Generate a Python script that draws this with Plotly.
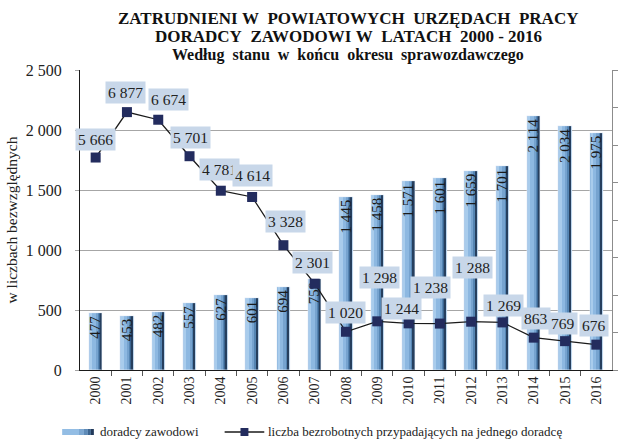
import plotly.graph_objects as go

years = list(range(2000, 2017))
advisers = [477, 453, 482, 557, 627, 601, 694, 759, 1445, 1458, 1571, 1601, 1659, 1701, 2114, 2034, 1975]
unemployed_per_adviser = [5666, 6877, 6674, 5701, 4781, 4614, 3328, 2301, 1020, 1298, 1244, 1238, 1288, 1269, 863, 769, 676]

bar_name = "doradcy zawodowi"
line_name = "liczba bezrobotnych przypadających na jednego doradcę"
S2 = "\u00a0\u00a0"
title_lines = [
    "ZATRUDNIENI\u00a0W" + S2 + "POWIATOWYCH" + S2 + "URZĘDACH" + S2 + "PRACY",
    "DORADCY" + S2 + "ZAWODOWI\u00a0W" + S2 + "LATACH" + S2 + "2000\u00a0-\u00a02016",
    "Według" + S2 + "stanu" + S2 + "w" + S2 + "końcu" + S2 + "okresu" + S2 + "sprawozdawczego",
]
y_title = "w liczbach bezwzględnych"

# label offsets (pixels) for the line value boxes
label_dx = [0, -1, 10, 1, -1, 0, 2, -2, -1, 2, -7, -9, 1, 1, 2, -2, -2]
label_dy = [18, 20, 20, 19, 21, 21, 24, 21, 19, 44, 15, 36, 54, 17, 19, 18, 19]

FONT = "Liberation Serif"
L, R, T, B, W, H = 80, 6, 70, 69, 623, 439
PW, PH = W - L - R, H - T - B


def px_x(p):
    return (p - L) / PW


def px_y(p):
    return (H - B - p) / PH


fig = go.Figure()

# cylinder-like bars built from layered bars
layers = [
    (-0.215, 0.43, "#A8C9E8"),
    (-0.19, 0.38, "#8DB8E1"),
    (-0.17, 0.06, "#A9CCEC"),
    (0.00, 0.19, "#76A3CF"),
    (0.07, 0.12, "#5585B3"),
    (0.11, 0.08, "#3A6490"),
    (0.14, 0.05, "#263F5E"),
]
for i, (off, w, col) in enumerate(layers):
    fig.add_trace(go.Bar(
        x=years, y=advisers, offset=off, width=w,
        marker=dict(color=col, line=dict(width=0)),
        name=bar_name, showlegend=False, hoverinfo="skip",
    ))

# text layer
fig.add_trace(go.Bar(
    x=years, y=advisers, offset=-0.215, width=0.43,
    marker=dict(color="rgba(0,0,0,0)"),
    texttemplate="%{y:,d}", textposition="inside", insidetextanchor="end",
    textangle=-90, constraintext="none",
    textfont=dict(family=FONT, size=15, color="#1a1a1a"),
    showlegend=False, name=bar_name,
))

fig.add_trace(go.Scatter(
    x=years, y=unemployed_per_adviser, yaxis="y2", mode="lines+markers",
    line=dict(color="#1a1a1a", width=1.3),
    marker=dict(symbol="square", size=10, color="#232C5E"),
    name=line_name, showlegend=False,
))

for x, v, dx, dy in zip(years, unemployed_per_adviser, label_dx, label_dy):
    fig.add_annotation(
        x=x, y=v, xref="x", yref="y2", text=f"{v:,}".replace(",", " "),
        showarrow=False, xshift=dx, yshift=dy,
        bgcolor="#C8D7E9", borderpad=2,
        font=dict(family=FONT, size=15.5, color="#222222"),
    )

for txt, py, fs in zip(title_lines, [18, 37, 55], [17, 17, 16]):
    fig.add_annotation(
        x=px_x(351), y=px_y(py), xref="paper", yref="paper", text="<b>" + txt + "</b>",
        showarrow=False, xanchor="center", yanchor="middle",
        font=dict(family=FONT, size=fs, color="#111111"),
    )

# manual legend
shapes = []
for x0, x1, col in [(62, 79, "#93BDE4"), (79, 84, "#7DA8D2"), (84, 88, "#5E8BB8"),
                    (88, 91, "#3D6590"), (91, 94, "#22395A")]:
    shapes.append(dict(type="rect", xref="paper", yref="paper", x0=px_x(x0), x1=px_x(x1),
                       y0=px_y(435), y1=px_y(429), fillcolor=col, line=dict(width=0), layer="above"))
shapes.append(dict(type="line", xref="paper", yref="paper", x0=px_x(226), x1=px_x(266),
                   y0=px_y(432), y1=px_y(432), line=dict(color="#1a1a1a", width=1.3), layer="above"))
shapes.append(dict(type="rect", xref="paper", yref="paper", x0=px_x(242), x1=px_x(250),
                   y0=px_y(436), y1=px_y(428), fillcolor="#232C5E", line=dict(width=0), layer="above"))
fig.add_annotation(x=px_x(98), y=px_y(432), xref="paper", yref="paper", text=bar_name,
                   showarrow=False, xanchor="left", yanchor="middle",
                   font=dict(family=FONT, size=13, color="#222222"))
fig.add_annotation(x=px_x(268), y=px_y(432), xref="paper", yref="paper", text=line_name,
                   showarrow=False, xanchor="left", yanchor="middle",
                   font=dict(family=FONT, size=13, color="#222222"))

fig.update_layout(
    width=W, height=H,
    margin=dict(l=L, r=R, t=T, b=B),
    paper_bgcolor="white", plot_bgcolor="white",
    barmode="overlay", bargap=0,
    separators=", ",
    showlegend=False,
    shapes=shapes,
    font=dict(family=FONT, color="#222222"),
    xaxis=dict(
        range=[1999.5, 2016.5], tickvals=years, ticktext=[str(y) for y in years],
        showgrid=False, showline=True, linecolor="#1a1a1a", linewidth=1,
        ticks="", tickangle=-90, tickfont=dict(family=FONT, size=14, color="#222222"),
        minor=dict(tickvals=[y + 0.5 for y in years[:-1]], ticks="outside", ticklen=5,
                   tickcolor="#555555", showgrid=False),
        zeroline=False,
    ),
    yaxis=dict(
        range=[0, 2500], dtick=500, tickformat=",d",
        showgrid=True, gridcolor="#A6A6A6", gridwidth=1,
        showline=True, linecolor="#1a1a1a", linewidth=1,
        ticks="outside", ticklen=4, tickcolor="#A6A6A6", ticklabelstandoff=10,
        tickfont=dict(family=FONT, size=16, color="#222222"),
        title=dict(text=y_title, font=dict(family=FONT, size=15.5, color="#222222"), standoff=4),
        zeroline=False,
    ),
    yaxis2=dict(
        overlaying="y", side="right", range=[0, 8000], dtick=1000,
        showgrid=False, showticklabels=False, showline=True, linecolor="#8C8C8C",
        ticks="outside", ticklen=5, tickcolor="#8C8C8C", zeroline=False,
    ),
)

fig.write_html(
    "out.html",
    config={"displayModeBar": False},
    post_script="document.body.style.margin='0';document.body.style.overflow='hidden';",
)
